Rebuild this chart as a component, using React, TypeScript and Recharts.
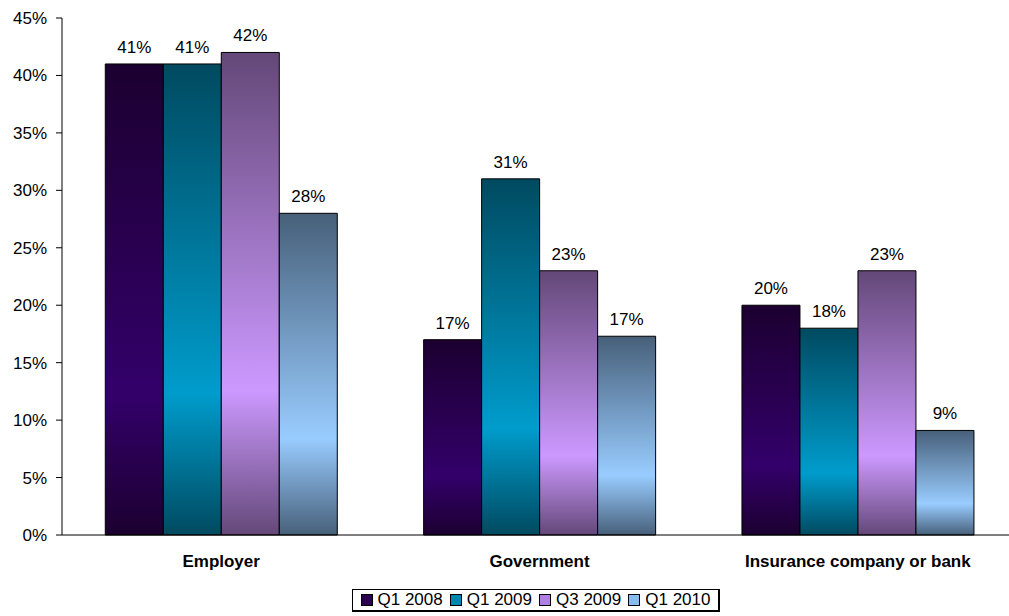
import React from "react";
import { BarChart, Bar, XAxis, YAxis, LabelList } from "recharts";

const categories = ["Employer", "Government", "Insurance company or bank"];
const seriesNames = ["Q1 2008", "Q1 2009", "Q3 2009", "Q1 2010"];
const q12008 = [41, 17, 20];
const q12009 = [41, 31, 18];
const q32009 = [42, 23, 23];
const q12010 = [28, 17.3, 9.1];
const yTicks = [0, 5, 10, 15, 20, 25, 30, 35, 40, 45];

const seriesValues = [q12008, q12009, q32009, q12010];
const keys = ["s0", "s1", "s2", "s3"];

const data = categories.map((c, i) => {
  const row: Record<string, string | number> = { name: c };
  seriesValues.forEach((vals, s) => {
    row[keys[s]] = vals[i];
  });
  return row;
});

const gradients = [
  { id: "g0", edge: "#1c0030", mid: "#33006a", legend: "#2a0055" },
  { id: "g1", edge: "#004a60", mid: "#009ccc", legend: "#0088b0" },
  { id: "g2", edge: "#644878", mid: "#cc99ff", legend: "#b080e0" },
  { id: "g3", edge: "#47607a", mid: "#99ccff", legend: "#88bbee" },
];

const FONT = "'Liberation Sans', Arial, sans-serif";

const LegendBox = () => (
  <div
    style={{
      position: "absolute",
      left: 352,
      top: 589,
      width: 368,
      height: 23,
      border: "1px solid #000",
      borderRightWidth: 2,
      borderBottomWidth: 2,
      boxSizing: "border-box",
      display: "flex",
      alignItems: "center",
      justifyContent: "space-around",
      fontFamily: FONT,
      fontSize: 17,
      color: "#000",
      padding: "0 4px",
      background: "#fff",
    }}
  >
    {seriesNames.map((n, i) => (
      <div key={n} style={{ display: "flex", alignItems: "center" }}>
        <span
          style={{
            display: "inline-block",
            width: 10,
            height: 10,
            background: gradients[i].legend,
            border: "1px solid #000",
            marginRight: 5,
          }}
        />
        <span>{n}</span>
      </div>
    ))}
  </div>
);

export default function App() {
  return (
    <div
      style={{
        position: "absolute",
        left: 0,
        top: 0,
        width: 1009,
        height: 616,
        overflow: "hidden",
        background: "#fff",
      }}
    >
      <BarChart
        width={1030}
        height={616}
        data={data}
        margin={{ top: 18, right: 13, bottom: 41, left: 0 }}
        barCategoryGap="13.6%"
        barGap={0}
      >
        <defs>
          {gradients.map((g) => (
            <linearGradient key={g.id} id={g.id} x1="0" y1="0" x2="0" y2="1">
              <stop offset="0%" stopColor={g.edge} />
              <stop offset="70%" stopColor={g.mid} />
              <stop offset="100%" stopColor={g.edge} />
            </linearGradient>
          ))}
        </defs>
        <YAxis
          width={62}
          domain={[0, 45]}
          ticks={yTicks}
          interval={0}
          tickFormatter={(v: number) => `${v}%`}
          axisLine={{ stroke: "#000", strokeWidth: 1 }}
          tickLine={{ stroke: "#000" }}
          tickSize={6}
          tickMargin={9}
          tick={{ fill: "#000", fontSize: 17, fontFamily: FONT }}
        />
        <XAxis
          dataKey="name"
          axisLine={{ stroke: "#000", strokeWidth: 1 }}
          tickLine={false}
          tickMargin={14}
          tick={{ fill: "#000", fontSize: 17, fontWeight: "bold", fontFamily: FONT }}
          height={40}
        />
        {keys.map((k, i) => (
          <Bar
            key={k}
            dataKey={k}
            name={seriesNames[i]}
            fill={`url(#${gradients[i].id})`}
            stroke="#000"
            strokeWidth={1}
            isAnimationActive={false}
          >
            <LabelList
              dataKey={k}
              position="top"
              offset={11}
              formatter={(v: number) => `${Math.round(v)}%`}
              style={{ fill: "#000", fontSize: 17, fontFamily: FONT }}
            />
          </Bar>
        ))}
      </BarChart>
      <LegendBox />
    </div>
  );
}
